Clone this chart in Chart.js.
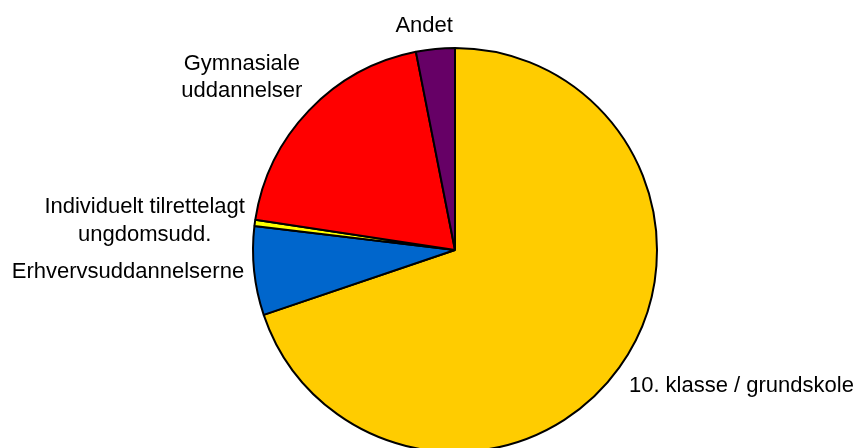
<!DOCTYPE html>
<html>
<head>
<meta charset="utf-8">
<script src="https://cdn.jsdelivr.net/npm/chart.js@4"></script>
<style>
  html, body { margin: 0; padding: 0; background: #fff; overflow: hidden; }
  #wrap { position: relative; width: 859px; height: 470px; }
</style>
</head>
<body>
<div id="wrap"><canvas id="chart"></canvas></div>
<script>
// === DATA ===
const kategorier = [
  "10. klasse / grundskole",
  "Erhvervsuddannelserne",
  ["Individuelt tilrettelagt", "ungdomsudd."],
  ["Gymnasiale", "uddannelser"],
  "Andet"
];
const andele = [69.8, 7.1, 0.5, 19.5, 3.1];
const farver = ["#FFCC00", "#0066CC", "#FFFF00", "#FF0000", "#660066"];

// === LABELS OUTSIDE THE PIE ===
const labelPlugin = {
  id: "outsideLabels",
  afterDraw(chart) {
    const ctx = chart.ctx;
    const meta = chart.getDatasetMeta(0);
    const fontSize = 22;
    const lineH = 27.5;
    ctx.save();
    ctx.font = fontSize + "px 'Liberation Sans', Arial, sans-serif";
    ctx.fillStyle = "#000";
    ctx.textBaseline = "middle";
    meta.data.forEach((arc, i) => {
      const p = arc.getProps(["x", "y", "startAngle", "endAngle", "outerRadius"], true);
      const mid = (p.startAngle + p.endAngle) / 2;
      const dx = Math.cos(mid), dy = Math.sin(mid);
      const ax = p.x + dx * (p.outerRadius + 12);
      const ay = p.y + dy * (p.outerRadius + 12);
      let lines = kategorier[i];
      if (!Array.isArray(lines)) lines = [lines];
      const w = Math.max(...lines.map(l => ctx.measureText(l).width));
      const h = lines.length * lineH;
      let left;
      if (Math.abs(dx) < 0.3) left = ax - w / 2 - 10;
      else if (dx < 0) left = ax - w + 2;
      else left = ax;
      let top;
      if (dy < -0.5) top = ay - h + 3;
      else if (dy > 0.5) top = ay - 3;
      else top = ay - h / 2;
      lines.forEach((l, k) => {
        ctx.textAlign = "center";
        ctx.fillText(l, left + w / 2, top + lineH * (k + 0.5));
      });
    });
    ctx.restore();
  }
};

new Chart(document.getElementById("chart"), {
  type: "pie",
  data: {
    labels: kategorier,
    datasets: [{
      data: andele,
      backgroundColor: farver,
      borderColor: "#000",
      borderWidth: 2
    }]
  },
  options: {
    responsive: true,
    maintainAspectRatio: false,
    animation: false,
    layout: { padding: { top: 47, bottom: 17, left: 252, right: 201 } },
    plugins: {
      legend: { display: false },
      tooltip: { enabled: false }
    }
  },
  plugins: [labelPlugin]
});
</script>
</body>
</html>
